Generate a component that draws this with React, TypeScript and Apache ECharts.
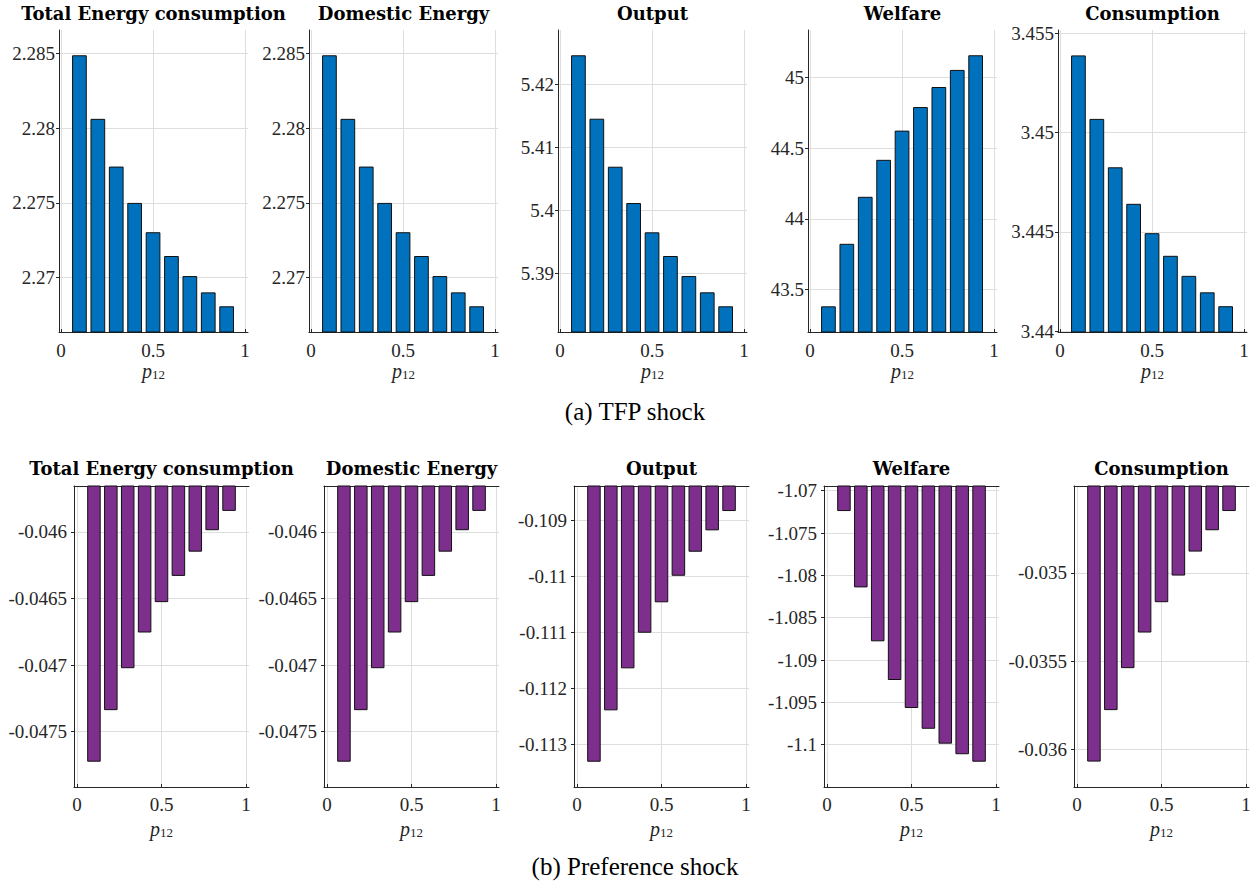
import React, { useEffect, useRef } from "react";
import * as echarts from "echarts";

// ---- Data ----
const P12 = [0.1, 0.2, 0.3, 0.4, 0.5, 0.6, 0.7, 0.8, 0.9];
const TITLES = ["Total Energy consumption", "Domestic Energy", "Output", "Welfare", "Consumption"];
const CAPTIONS = ["(a) TFP shock", "(b) Preference shock"];

const tfpTotalEnergy = [2.28487, 2.28062, 2.27743, 2.275, 2.27304, 2.27145, 2.27011, 2.26902, 2.26809];
const tfpDomesticEnergy = [2.28487, 2.28062, 2.27743, 2.275, 2.27304, 2.27145, 2.27011, 2.26902, 2.26809];
const tfpOutput = [5.42467, 5.4146, 5.40698, 5.40122, 5.39657, 5.39281, 5.38963, 5.38705, 5.38483];
const tfpWelfare = [43.38, 43.823, 44.156, 44.418, 44.625, 44.792, 44.934, 45.055, 45.159];
const tfpConsumption = [3.45389, 3.45069, 3.44825, 3.44641, 3.44493, 3.44379, 3.44278, 3.44195, 3.44125];

const prefTotalEnergy = [-0.047725, -0.047338, -0.047023, -0.046755, -0.046527, -0.04633, -0.046148, -0.045987, -0.045842];
const prefDomesticEnergy = [-0.047725, -0.047338, -0.047023, -0.046755, -0.046527, -0.04633, -0.046148, -0.045987, -0.045842];
const prefOutput = [-0.113311, -0.112393, -0.111643, -0.111007, -0.110464, -0.10999, -0.109561, -0.109179, -0.108834];
const prefWelfare = [-1.0724, -1.08142, -1.08779, -1.09236, -1.09567, -1.09812, -1.09988, -1.10113, -1.10201];
const prefConsumption = [-0.03607, -0.035778, -0.03554, -0.035338, -0.035166, -0.035015, -0.034879, -0.034758, -0.034649];

// y-axis ranges and tick labels
const tfpYRanges = [
  [2.26637, 2.28656],
  [2.26637, 2.28656],
  [5.38075, 5.42868],
  [43.198, 45.338],
  [3.43995, 3.45517],
];
const tfpYTicks = [
  [2.27, 2.275, 2.28, 2.285],
  [2.27, 2.275, 2.28, 2.285],
  [5.39, 5.4, 5.41, 5.42],
  [43.5, 44, 44.5, 45],
  [3.44, 3.445, 3.45, 3.455],
];
const prefYRanges = [
  [-0.047915, -0.045655],
  [-0.047915, -0.045655],
  [-0.113762, -0.108387],
  [-1.105, -1.06944],
  [-0.036214, -0.034507],
];
const prefYTicks = [
  [-0.0475, -0.047, -0.0465, -0.046],
  [-0.0475, -0.047, -0.0465, -0.046],
  [-0.113, -0.112, -0.111, -0.11, -0.109],
  [-1.1, -1.095, -1.09, -1.085, -1.08, -1.075, -1.07],
  [-0.036, -0.0355, -0.035],
];
const xTicks = [0, 0.5, 1];
const xRanges = [
  [-0.011, 1.016],
  [-0.018, 1.018],
];

const BLUE = "#0072BD";
const PURPLE = "#7E2F8E";
const SERIF = "'Liberation Serif', serif";
const TITLE_FONT = "'DejaVu Serif', serif";
const AXIS_COLOR = "#262626";
const GRID_COLOR = "#dedede";

const fmt = (v: number) => String(parseFloat(Number(v).toFixed(6)));

export default function App() {
  const ref = useRef<HTMLDivElement>(null);

  useEffect(() => {
    document.body.style.margin = "0";
    if (!ref.current) return;
    const chart = echarts.init(ref.current, null, { renderer: "svg" });

    const rows = [
      {
        series: [tfpTotalEnergy, tfpDomesticEnergy, tfpOutput, tfpWelfare, tfpConsumption],
        yr: tfpYRanges,
        yt: tfpYTicks,
        color: BLUE,
        lefts: [59, 309, 558, 808, 1058],
        width: 189,
        top: 30,
        height: 302,
        titleY: 13,
        labelMarginY: 4,
        labelMarginX: 9,
        nameGap: 28,
        captionY: 411,
      },
      {
        series: [prefTotalEnergy, prefDomesticEnergy, prefOutput, prefWelfare, prefConsumption],
        yr: prefYRanges,
        yt: prefYTicks,
        color: PURPLE,
        lefts: [74, 324, 574, 824, 1074],
        width: 175,
        top: 486,
        height: 301,
        titleY: 468,
        labelMarginY: 7,
        labelMarginX: 8,
        nameGap: 32,
        captionY: 866,
      },
    ];

    const grid: any[] = [];
    const xAxis: any[] = [];
    const yAxis: any[] = [];
    const series: any[] = [];
    const graphic: any[] = [];
    const extraX: any[] = [];

    rows.forEach((r, ri) => {
      for (let c = 0; c < 5; c++) {
        const idx = ri * 5 + c;
        grid.push({ left: r.lefts[c], top: r.top, width: r.width, height: r.height, containLabel: false });
        xAxis.push({
          gridIndex: idx,
          type: "value",
          min: xRanges[ri][0],
          max: xRanges[ri][1],
          axisLine: { show: true, onZero: false, lineStyle: { color: AXIS_COLOR, width: 1 } },
          axisTick: { show: true, inside: true, length: 3, customValues: xTicks, lineStyle: { color: AXIS_COLOR } },
          axisLabel: {
            customValues: xTicks,
            formatter: fmt,
            fontFamily: SERIF,
            fontSize: 19,
            color: AXIS_COLOR,
            margin: r.labelMarginX,
          },
          splitLine: { show: true, lineStyle: { color: GRID_COLOR, width: 1 } },
          name: "{p|p}{s|12}",
          nameLocation: "middle",
          nameGap: r.nameGap,
          nameTextStyle: {
            rich: {
              p: { fontFamily: SERIF, fontStyle: "italic", fontSize: 20, color: AXIS_COLOR, verticalAlign: "bottom", lineHeight: 20 },
              s: { fontFamily: SERIF, fontSize: 13, color: AXIS_COLOR, verticalAlign: "bottom", lineHeight: 15 },
            },
          },
        });
        if (ri === 1) {
          extraX.push({
            gridIndex: idx,
            type: "value",
            position: "top",
            min: xRanges[ri][0],
            max: xRanges[ri][1],
            axisLine: { show: true, onZero: false, lineStyle: { color: AXIS_COLOR, width: 1 } },
            axisTick: { show: false },
            axisLabel: { show: false },
            splitLine: { show: false },
          });
        }
        yAxis.push({
          gridIndex: idx,
          type: "value",
          min: r.yr[c][0],
          max: r.yr[c][1],
          axisLine: { show: true, onZero: false, lineStyle: { color: AXIS_COLOR, width: 1 } },
          axisTick: { show: true, length: 3, customValues: r.yt[c], lineStyle: { color: AXIS_COLOR } },
          axisLabel: {
            customValues: r.yt[c],
            formatter: fmt,
            fontFamily: SERIF,
            fontSize: 19,
            color: AXIS_COLOR,
            margin: r.labelMarginY,
          },
          splitLine: { show: true, lineStyle: { color: GRID_COLOR, width: 1 } },
        });
        series.push({
          type: "bar",
          xAxisIndex: idx,
          yAxisIndex: idx,
          data: P12.map((x, k) => [x, r.series[c][k]]),
          barWidth: "80%",
          clip: true,
          silent: true,
          itemStyle: { color: r.color, borderColor: "#111111", borderWidth: 1 },
        });
        graphic.push({
          type: "text",
          x: r.lefts[c] + r.width / 2,
          y: r.titleY,
          style: {
            text: TITLES[c],
            fontFamily: TITLE_FONT,
            fontWeight: "bold",
            fontSize: 18,
            fill: "#000",
            align: "center",
            verticalAlign: "middle",
          },
        });
      }
      graphic.push({
        type: "text",
        x: 635,
        y: r.captionY,
        style: {
          text: CAPTIONS[ri],
          fontFamily: SERIF,
          fontSize: 25,
          fill: "#000",
          align: "center",
          verticalAlign: "middle",
        },
      });
    });

    chart.setOption({
      animation: false,
      backgroundColor: "#ffffff",
      grid,
      xAxis: xAxis.concat(extraX),
      yAxis,
      series,
      graphic,
    });

    return () => chart.dispose();
  }, []);

  return <div ref={ref} style={{ width: 1258, height: 884 }} />;
}
